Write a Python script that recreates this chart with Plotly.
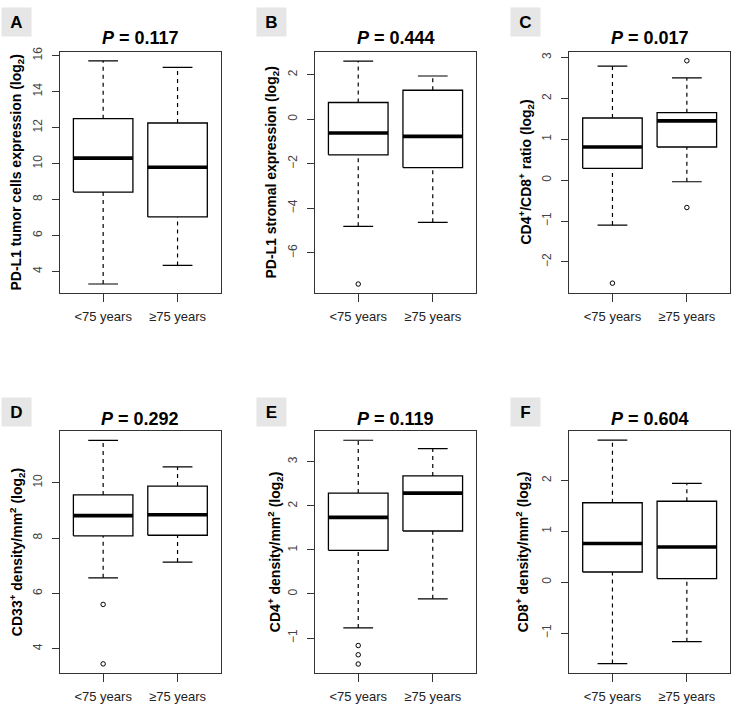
import plotly.graph_objects as go

W, H = 735, 712

groups = ["<75 years", "≥75 years"]
panel_letters = ["A", "B", "C", "D", "E", "F"]
p_values = ["0.117", "0.444", "0.017", "0.292", "0.119", "0.604"]
y_titles = [
    "PD-L1 tumor cells expression (log<sub>2</sub>)",
    "PD-L1 stromal expression (log<sub>2</sub>)",
    "CD4<sup>+</sup>/CD8<sup>+</sup> ratio (log<sub>2</sub>)",
    "CD33<sup>+</sup> density/mm<sup>2</sup> (log<sub>2</sub>)",
    "CD4<sup>+</sup> density/mm<sup>2</sup> (log<sub>2</sub>)",
    "CD8<sup>+</sup> density/mm<sup>2</sup> (log<sub>2</sub>)",
]

# five-number summaries: [lower whisker, Q1, median, Q3, upper whisker]
A_lt75 = [3.30, 8.41, 10.30, 12.49, 15.71]
A_ge75 = [4.33, 7.03, 9.79, 12.25, 15.34]
A_out_lt75 = []
A_out_ge75 = []

B_lt75 = [-4.81, -1.60, -0.62, 0.75, 2.61]
B_ge75 = [-4.63, -2.17, -0.77, 1.30, 1.94]
B_out_lt75 = [-7.40]
B_out_ge75 = []

C_lt75 = [-1.10, 0.29, 0.81, 1.52, 2.79]
C_ge75 = [-0.04, 0.81, 1.45, 1.65, 2.50]
C_out_lt75 = [-2.52]
C_out_ge75 = [2.92, -0.67]

D_lt75 = [6.56, 8.08, 8.81, 9.56, 11.53]
D_ge75 = [7.13, 8.10, 8.84, 9.88, 10.57]
D_out_lt75 = [5.60, 3.45]
D_out_ge75 = []

E_lt75 = [-0.77, 0.99, 1.74, 2.29, 3.49]
E_ge75 = [-0.11, 1.43, 2.29, 2.68, 3.30]
E_out_lt75 = [-1.17, -1.38, -1.59]
E_out_ge75 = []

F_lt75 = [-1.60, 0.20, 0.76, 1.56, 2.79]
F_ge75 = [-1.17, 0.07, 0.69, 1.59, 1.94]
F_out_lt75 = []
F_out_ge75 = []

# axis tick values
A_ticks = [4, 6, 8, 10, 12, 14, 16]
B_ticks = [-6, -4, -2, 0, 2]
C_ticks = [-2, -1, 0, 1, 2, 3]
D_ticks = [4, 6, 8, 10]
E_ticks = [-1, 0, 1, 2, 3]
F_ticks = [-1, 0, 1, 2]

panels = [
    (A_lt75, A_ge75, A_out_lt75, A_out_ge75, A_ticks, [2.80, 16.19]),
    (B_lt75, B_ge75, B_out_lt75, B_out_ge75, B_ticks, [-7.80, 3.01]),
    (C_lt75, C_ge75, C_out_lt75, C_out_ge75, C_ticks, [-2.76, 3.13]),
    (D_lt75, D_ge75, D_out_lt75, D_out_ge75, D_ticks, [3.11, 11.87]),
    (E_lt75, E_ge75, E_out_lt75, E_out_ge75, E_ticks, [-1.80, 3.70]),
    (F_lt75, F_ge75, F_out_lt75, F_out_ge75, F_ticks, [-1.79, 2.97]),
]

# pixel layout
col_x = [(60, 220.7), (315, 476), (569.3, 730)]
row_y = [(47.5, 290), (429, 673)]
ytitle_x = [17, 272, 526, 17, 275, 523]
letter_x = [16.5, 271, 525, 16.5, 271, 525]
letter_y = [17, 409.5]
title_y = [33, 417]

FONT = "Liberation Sans, Arial, sans-serif"
fig = go.Figure()
layout = dict(
    width=W, height=H, margin=dict(l=0, r=0, t=0, b=0),
    paper_bgcolor="white", plot_bgcolor="white", showlegend=False,
    font=dict(family=FONT, color="black"),
    annotations=[],
)

BW = 0.4
CAP = 0.2
for i, (g1, g2, o1, o2, ticks, yr) in enumerate(panels):
    r, c = divmod(i, 3)
    ax = "" if i == 0 else str(i + 1)
    xref, yref = "x" + ax, "y" + ax
    x0, x1 = col_x[c]
    y0, y1 = row_y[r]
    layout["xaxis" + ax] = dict(
        domain=[x0 / W, x1 / W], range=[0.42, 2.58], anchor=yref,
        tickvals=[1, 2], ticktext=groups, ticks="outside", ticklen=8,
        tickcolor="#333", tickwidth=1.2, showgrid=False, zeroline=False,
        showline=True, mirror=True, linecolor="#333", linewidth=1.3,
        tickfont=dict(size=13, color="#222"), fixedrange=True,
        ticklabelstandoff=3,
    )
    layout["yaxis" + ax] = dict(
        domain=[1 - y1 / H, 1 - y0 / H], range=yr, anchor=xref,
        tickvals=ticks, ticks="outside", ticklen=7, tickangle=-90,
        tickcolor="#333", tickwidth=1.2, showgrid=False, zeroline=False,
        showline=True, mirror=True, linecolor="#333", linewidth=1.3,
        tickfont=dict(size=12, color="#444"), fixedrange=True,
        ticklabelstandoff=5,
    )
    for j, (st, outs) in enumerate([(g1, o1), (g2, o2)]):
        x = j + 1
        lo, q1, med, q3, hi = st
        # whiskers (dashed)
        fig.add_trace(go.Scatter(
            x=[x, x, None, x, x], y=[lo, q1, None, q3, hi], mode="lines",
            line=dict(color="black", width=1.2, dash="4px,4px"),
            xaxis=xref, yaxis=yref, hoverinfo="skip"))
        # caps
        fig.add_trace(go.Scatter(
            x=[x - CAP, x + CAP, None, x - CAP, x + CAP],
            y=[lo, lo, None, hi, hi], mode="lines",
            line=dict(color="black", width=1.2),
            xaxis=xref, yaxis=yref, hoverinfo="skip"))
        # box
        fig.add_trace(go.Scatter(
            x=[x - BW, x + BW, x + BW, x - BW, x - BW],
            y=[q1, q1, q3, q3, q1], mode="lines", fill="toself",
            fillcolor="white", line=dict(color="black", width=1.3),
            xaxis=xref, yaxis=yref, hoverinfo="skip"))
        # median
        fig.add_trace(go.Scatter(
            x=[x - BW, x + BW], y=[med, med], mode="lines",
            line=dict(color="black", width=3.6),
            xaxis=xref, yaxis=yref, hoverinfo="skip"))
        if outs:
            fig.add_trace(go.Scatter(
                x=[x] * len(outs), y=outs, mode="markers",
                marker=dict(symbol="circle-open", size=4.5, color="black",
                            line=dict(width=1)),
                xaxis=xref, yaxis=yref, hoverinfo="skip"))

    # title
    layout["annotations"].append(dict(
        text="<b><i>P</i> = " + p_values[i] + "</b>", xref="paper", yref="paper",
        x=((x0 + x1) / 2) / W, y=1 - title_y[r] / H, xanchor="center",
        yanchor="middle", showarrow=False, font=dict(size=18, color="black")))
    # y title
    layout["annotations"].append(dict(
        text="<b>" + y_titles[i] + "</b>", xref="paper", yref="paper",
        x=ytitle_x[i] / W, y=1 - ((y0 + y1) / 2) / H, textangle=-90,
        xanchor="center", yanchor="middle", showarrow=False,
        font=dict(size=14, color="black")))
    # panel letter
    layout["annotations"].append(dict(
        text="<b>" + panel_letters[i] + "</b>", xref="paper", yref="paper",
        x=letter_x[i] / W, y=1 - letter_y[r] / H, xanchor="center",
        yanchor="middle", showarrow=False, bgcolor="#e6e6e6",
        width=27, height=26, font=dict(size=17, color="black")))

fig.update_layout(**layout)
fig.write_html(
    "out.html",
    config={"displayModeBar": False},
    post_script="document.body.style.margin='0px';document.body.style.padding='0px';",
)
